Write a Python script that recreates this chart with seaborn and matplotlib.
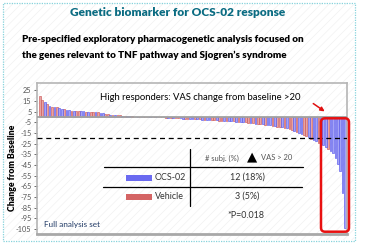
import matplotlib
matplotlib.use("Agg")
import matplotlib.pyplot as plt
import seaborn as sns
import pandas as pd
from matplotlib.patches import Rectangle, FancyBboxPatch, FancyArrowPatch
from matplotlib.lines import Line2D
from matplotlib.transforms import IdentityTransform

# ---------------- data ----------------
values = [
    19.4, 15.4, 14.2, 11.7, 10.0, 9.5, 9.2, 8.8, 8.2, 7.6, 7.0, 6.2, 6.0, 5.9, 5.8, 5.8, 5.7,
    5.6, 5.4, 5.0, 5.0, 4.8, 4.5, 4.4, 4.2, 3.4, 3.2, 3.0, 2.4, 2.2, 2.0, 1.8, 1.5, 1.4, 1.2,
    0.8, 0.6, 0.5, 0.4, 0.3, 0.3, 0.2, 0.2, 0.1, 0.1, 0.0, 0.0, -0.1, -0.2, -0.3, -0.4,
    -0.5, -0.6, -0.8, -0.9, -1.0, -1.1, -1.2, -1.4, -1.5, -1.6, -1.8, -2.0,
    -2.1, -2.2, -2.3, -2.4, -2.5, -2.6, -2.8, -2.9, -3.0, -3.1, -3.2, -3.4, -3.5, -3.6, -3.7, -3.8, -4.0,
    -4.2, -4.4, -4.6, -4.8, -5.0, -5.2, -5.5, -5.7, -6.0, -6.2, -6.5, -6.8, -7.0,
    -7.3, -7.6, -8.0, -8.3, -8.6, -9.0, -9.3, -9.6, -10.0,
    -10.8, -11.5, -12.3, -13.0, -14.0, -15.0, -16.0, -17.0, -18.0, -19.0,
    -21, -22, -23, -24, -25, -26, -28, -30, -32, -34, -38, -44, -51, -71, -104,
]
groups = list(
    "RRBRBRBRBB" "RBBRBRRBBR" "BRRBRBBRRB" "RBRRBRBBRR" "BRBRRBBRBR" "RBRBRBRRBB"
    "RRBBRBRBRB" "BRRBRRBRBB" "RBRBBRRBRB" "RRBRBBRBRR" "BRBRRBRBBR" "RB"
    "RBBRBBBRBBBBBBB"
)
group_names = {"B": "OCS-02", "R": "Vehicle"}
yticks = [25, 15, 5, -5, -15, -25, -35, -45, -55, -65, -75, -85, -95, -105]
threshold = -20
legend_labels = ["OCS-02", "Vehicle"]
count_labels = ["12 (18%)", "3 (5%)"]
p_label = "*P=0.018"

fill_colors = {"OCS-02": "#a4a4f6", "Vehicle": "#e6a4a4"}
edge_colors = {"OCS-02": "#5858ec", "Vehicle": "#cc5656"}
legend_colors = {"OCS-02": "#6a6af0", "Vehicle": "#d46464"}

# ---------------- figure ----------------
sns.set_theme(style="white")
plt.rcParams["font.family"] = ["Lato", "DejaVu Sans"]
plt.rcParams["axes.unicode_minus"] = False
plt.rcParams["hatch.linewidth"] = 0.5

W, H = 374, 249
fig = plt.figure(figsize=(W / 100, H / 100), dpi=100)
fig.patch.set_facecolor("white")
ID = IdentityTransform()


def P(x, y):
    return (x, H - y)


def ftext(x, y, s, **kw):
    fig.text(x / W, 1 - y / H, s, **kw)


# faint diagonal texture
fig.add_artist(Rectangle(P(3, 240), 351, 237, transform=ID, facecolor="none",
                         edgecolor="#f1f1f1", hatch="////", lw=0, zorder=0))
# outer dotted frame
fig.add_artist(Rectangle(P(2.5, 241), 352, 238.5, transform=ID, fill=False,
                         edgecolor="#86d3dc", lw=0.9, linestyle=(0, (1, 1)), zorder=1))

ax = fig.add_axes([37 / W, 1 - 234 / H, 310 / W, 151 / H])
ax.patch.set_alpha(0)
df = pd.DataFrame({
    "idx": list(range(len(values))),
    "change": values,
    "group": [group_names[g] for g in groups],
})
sns.barplot(data=df, x="idx", y="change", hue="group", dodge=False,
            palette=fill_colors, width=0.7, saturation=1, legend=False, ax=ax,
            linewidth=0, zorder=2)
for bar, g in zip(sorted(ax.patches, key=lambda p: p.get_x()), df["group"]):
    bar.set_edgecolor(edge_colors[g])
    bar.set_linewidth(0.45)
ax.set_xlim(-1.2, len(values) - 0.2)
ax.set_ylim(-109.5, 31.7)
ax.set_yticks(yticks)
ax.set_yticklabels([str(t) for t in yticks])
ax.set_xticks([])
ax.set_xlabel("")
ax.set_ylabel("")
ax.tick_params(axis="y", labelsize=5.3, colors="#555555", length=2, width=0.6, pad=2, left=True)
for s in ax.spines.values():
    s.set_color("#b5b5b5")
    s.set_linewidth(1.2)
ax.spines["bottom"].set_linewidth(2)
ax.spines["bottom"].set_color("#a8a8a8")
ax.axhline(0, color="#a0a0a0", lw=1.3, zorder=3)
ax.axhline(threshold, color="black", lw=0.9, linestyle=(0, (4, 3)), zorder=3)

# ---------------- text ----------------
ftext(178, 13, "Genetic biomarker for OCS-02 response", ha="center", va="center",
      fontsize=8.6, fontweight="heavy", color="#0b6c82")
ftext(22, 40, "Pre-specified exploratory pharmacogenetic analysis focused on",
      ha="left", va="center", fontsize=7.1, fontweight="heavy", color="black")
ftext(22, 55, "the genes relevant to TNF pathway and Sjogren\u2019s syndrome",
      ha="left", va="center", fontsize=7.1, fontweight="heavy", color="black")
ftext(13, 168, "Change from Baseline", ha="center", va="center", rotation=90,
      fontsize=6.3, fontweight="heavy", color="black")
ftext(100, 97, "High responders: VAS change from baseline >20", ha="left", va="center",
      fontsize=6.8, color="black")
ftext(44, 224, "Full analysis set", ha="left", va="center", fontsize=5.9, color="#1f3864")

# arrow and highlight box
fig.add_artist(FancyArrowPatch(P(311, 102), P(327, 113), transform=ID,
                               arrowstyle="-|>", mutation_scale=6, color="#e01010", lw=1.1))
fig.add_artist(FancyBboxPatch(P(321, 231.7), 28, 113.4, transform=ID,
                              boxstyle="round,pad=0,rounding_size=4", fill=False,
                              edgecolor="#e81010", lw=1.8, zorder=5))

# ---------------- table ----------------
for (x0, y0, x1, y1) in [(190, 149, 190, 206), (104, 167.3, 303, 167.3), (103, 186.7, 302, 186.7)]:
    fig.add_artist(Line2D([x0, x1], [H - y0, H - y1], transform=ID, color="black", lw=0.9))

ftext(222, 158, "# subj. (%)", ha="center", va="center", fontsize=5.4, color="#555555")
ftext(252, 157, "\u25b2", ha="center", va="center", fontsize=9.5, color="black",
      family=["DejaVu Sans"])
ftext(261, 158, "VAS > 20", ha="left", va="center", fontsize=5.4, color="#555555")

for i, (lab, cnt) in enumerate(zip(legend_labels, count_labels)):
    yc = 177.5 + i * 19
    fig.add_artist(Rectangle(P(126, yc + 3), 26, 6, transform=ID,
                             facecolor=legend_colors[lab], edgecolor="none"))
    ftext(155, yc, lab, ha="left", va="center", fontsize=6.4, color="#333333")
    ftext(247, yc, cnt, ha="center", va="center", fontsize=6.4, color="#333333")
ftext(246, 215, p_label, ha="center", va="center", fontsize=6.4, color="#333333")

fig.savefig("out.png", dpi=100)
